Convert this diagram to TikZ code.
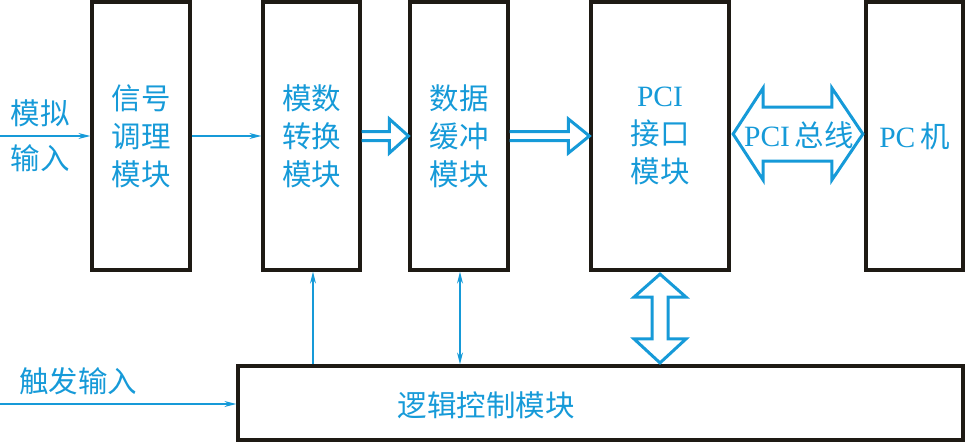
\documentclass[tikz,border=0pt]{standalone}
\usepackage{fontspec}
\setmainfont{Liberation Serif}
\newfontfamily\cjk{Noto Sans CJK SC}
\newfontfamily\lat{Liberation Serif}
\usetikzlibrary{arrows.meta,calc}
\definecolor{lblue}{RGB}{22,154,216}
\definecolor{boxk}{RGB}{30,26,20}
\newcommand\hharrow[5]{% start, end, shaft half, head half, head length
  \draw[hollow] ($(#1)+(0,-#3)$) -- ($(#2)+(-#5,-#3)$) -- ($(#2)+(-#5,-#4)$) -- (#2)
    -- ($(#2)+(-#5,#4)$) -- ($(#2)+(-#5,#3)$) -- ($(#1)+(0,#3)$);}
\begin{document}
\begin{tikzpicture}[x=1pt,y=-1pt,
  box/.style={draw=boxk, line width=3.2pt, inner sep=0pt, text=lblue,
    font=\cjk\fontsize{29.5}{38}\selectfont, align=center},
  lbl/.style={text=lblue, font=\cjk\fontsize{29.5}{38}\selectfont, align=center, inner sep=0pt},
  thinarr/.style={draw=lblue, line width=1.3pt, -{Stealth[length=12pt,width=6pt]}},
  thinboth/.style={draw=lblue, line width=1.3pt, {Stealth[length=12pt,width=6pt]}-{Stealth[length=12pt,width=6pt]}},
  hollow/.style={draw=lblue, line width=3pt, line join=miter}]
\useasboundingbox (0,0) rectangle (966,442);

% boxes
\node[box, minimum width=98pt, minimum height=268pt] (sig) at (141,136) {信号\\调理\\模块};
\node[box, minimum width=97pt, minimum height=268pt] (ad) at (311.5,136) {模数\\转换\\模块};
\node[box, minimum width=98pt, minimum height=268pt] (buf) at (459,136) {数据\\缓冲\\模块};
\node[box, minimum width=138pt, minimum height=268pt] (pci) at (660,136) {{\lat PCI}\\接口\\模块};
\node[box, minimum width=97pt, minimum height=268pt] (pc) at (914.5,136) {{\lat PC}\,机};
\node[box, minimum width=725pt, minimum height=74pt] (logic) at (600.5,403) {};
\node[lbl] (logiclbl) at (486,405) {逻辑控制模块};

% labels
\node[lbl] (mn) at (40,113) {模拟};
\node[lbl] (sr) at (40,158) {输入};
\node[lbl] (cf) at (78,381) {触发输入};

% thin arrows
\coordinate (ain) at (0,136);
\draw[thinarr] (ain) -- (sig.west);
\draw[thinarr] (sig.east) -- (ad.west);
\coordinate (tin) at (0,404);
\draw[thinarr] (tin) -- (tin -| logic.west);
\draw[thinarr] ($(ad.south |- logic.north)+(1.5,0)$) -- ($(ad.south)+(1.5,0)$);
\draw[thinboth] ($(buf.south |- logic.north)+(1,0)$) -- ($(buf.south)+(1,0)$);

% hollow arrows
\hharrow{ad.east}{buf.west}{4.5}{17}{19}
\hharrow{buf.east}{pci.west}{4.5}{17}{21}

% PCI bus double arrow
\coordinate (ba) at ($(pci.east)+(2.5,-2)$);
\coordinate (bb) at ($(pc.west)+(-1.5,-2)$);
\draw[hollow] (ba) -- ($(ba)+(30,-46)$) -- ($(ba)+(30,-27)$) -- ($(bb)+(-31,-27)$)
  -- ($(bb)+(-31,-46)$) -- (bb) -- ($(bb)+(-31,46)$) -- ($(bb)+(-31,27)$)
  -- ($(ba)+(30,27)$) -- ($(ba)+(30,46)$) -- cycle;
\node[lbl] (buslbl) at (799,135) {{\lat PCI}\,总线};

% vertical double arrow
\coordinate (va) at ($(pci.south)+(0,2.5)$);
\coordinate (vb) at ($(pci.south |- logic.north)+(0,-1.5)$);
\draw[hollow] (va) -- ($(va)+(26,23)$) -- ($(va)+(8,23)$) -- ($(vb)+(8,-24)$)
  -- ($(vb)+(26,-24)$) -- (vb) -- ($(vb)+(-26,-24)$) -- ($(vb)+(-8,-24)$)
  -- ($(va)+(-8,23)$) -- ($(va)+(-26,23)$) -- cycle;
\end{tikzpicture}
\end{document}
